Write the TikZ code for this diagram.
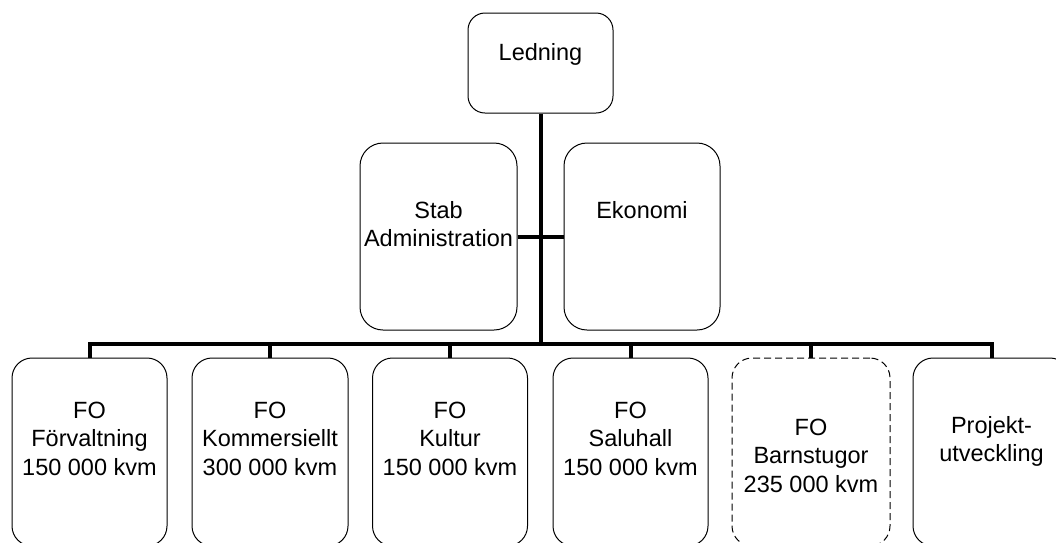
\documentclass[tikz,border=0pt]{standalone}
\usepackage{fontspec}
\setmainfont{Liberation Sans}
\begin{document}
\begin{tikzpicture}[x=1pt,y=-1pt,
  box/.style={draw=black,line width=1pt,rounded corners=20pt,inner sep=0pt},
  lbl/.style={anchor=north,inner sep=0pt,align=center,font=\fontsize{23.5}{28.5}\selectfont},
  conn/.style={line width=4pt,line join=miter}]
\clip (0,0) rectangle (1056,542);
\fill[white] (0,0) rectangle (1056,542);
% boxes
\node[box,minimum width=145pt,minimum height=100pt,rounded corners=17pt] (led) at (540.5,63) {};
\node[box,minimum width=157pt,minimum height=187pt,rounded corners=23pt] (stab) at (438.5,236.5) {};
\node[box,minimum width=156pt,minimum height=187pt,rounded corners=23pt] (eko) at (642,236.5) {};
\node[box,minimum width=155pt,minimum height=188pt] (b1) at (89.5,452) {};
\node[box,minimum width=156pt,minimum height=188pt] (b2) at (270,452) {};
\node[box,minimum width=155pt,minimum height=188pt] (b3) at (450,452) {};
\node[box,minimum width=155pt,minimum height=188pt] (b4) at (630.5,452) {};
\node[box,dash pattern=on 7pt off 4pt,minimum width=158pt,minimum height=188pt] (b5) at (811,452) {};
\node[box,minimum width=157pt,minimum height=188pt] (b6) at (991.5,452) {};
% texts
\node[lbl] (tled) at (540.5,40) {\strut Ledning};
\node[lbl] (tstab) at (438.5,198) {\strut Stab\\Administration};
\node[lbl] (teko) at (642,198) {\strut Ekonomi};
\node[lbl] (t1) at (89.5,398) {\strut FO\\Förvaltning\\150 000 kvm};
\node[lbl] (t2) at (270,398) {\strut FO\\Kommersiellt\\300 000 kvm};
\node[lbl] (t3) at (450,398) {\strut FO\\Kultur\\150 000 kvm};
\node[lbl] (t4) at (630.5,398) {\strut FO\\Saluhall\\150 000 kvm};
\node[lbl] (t5) at (811,415) {\strut FO\\Barnstugor\\235 000 kvm};
\node[lbl] (t6) at (991.5,413) {\strut Projekt-\\utveckling};
% connectors
\coordinate (bus) at (540.5,344);
\draw[conn] (led.south) -- (led.south |- bus);
\draw[conn] (stab.east) -- (eko.west);
\draw[conn] (b1.north) |- (bus) -| (b6.north);
\foreach \b in {b2,b3,b4,b5}{\draw[conn] (\b.north) -- (\b.north |- bus);}
\end{tikzpicture}
\end{document}
